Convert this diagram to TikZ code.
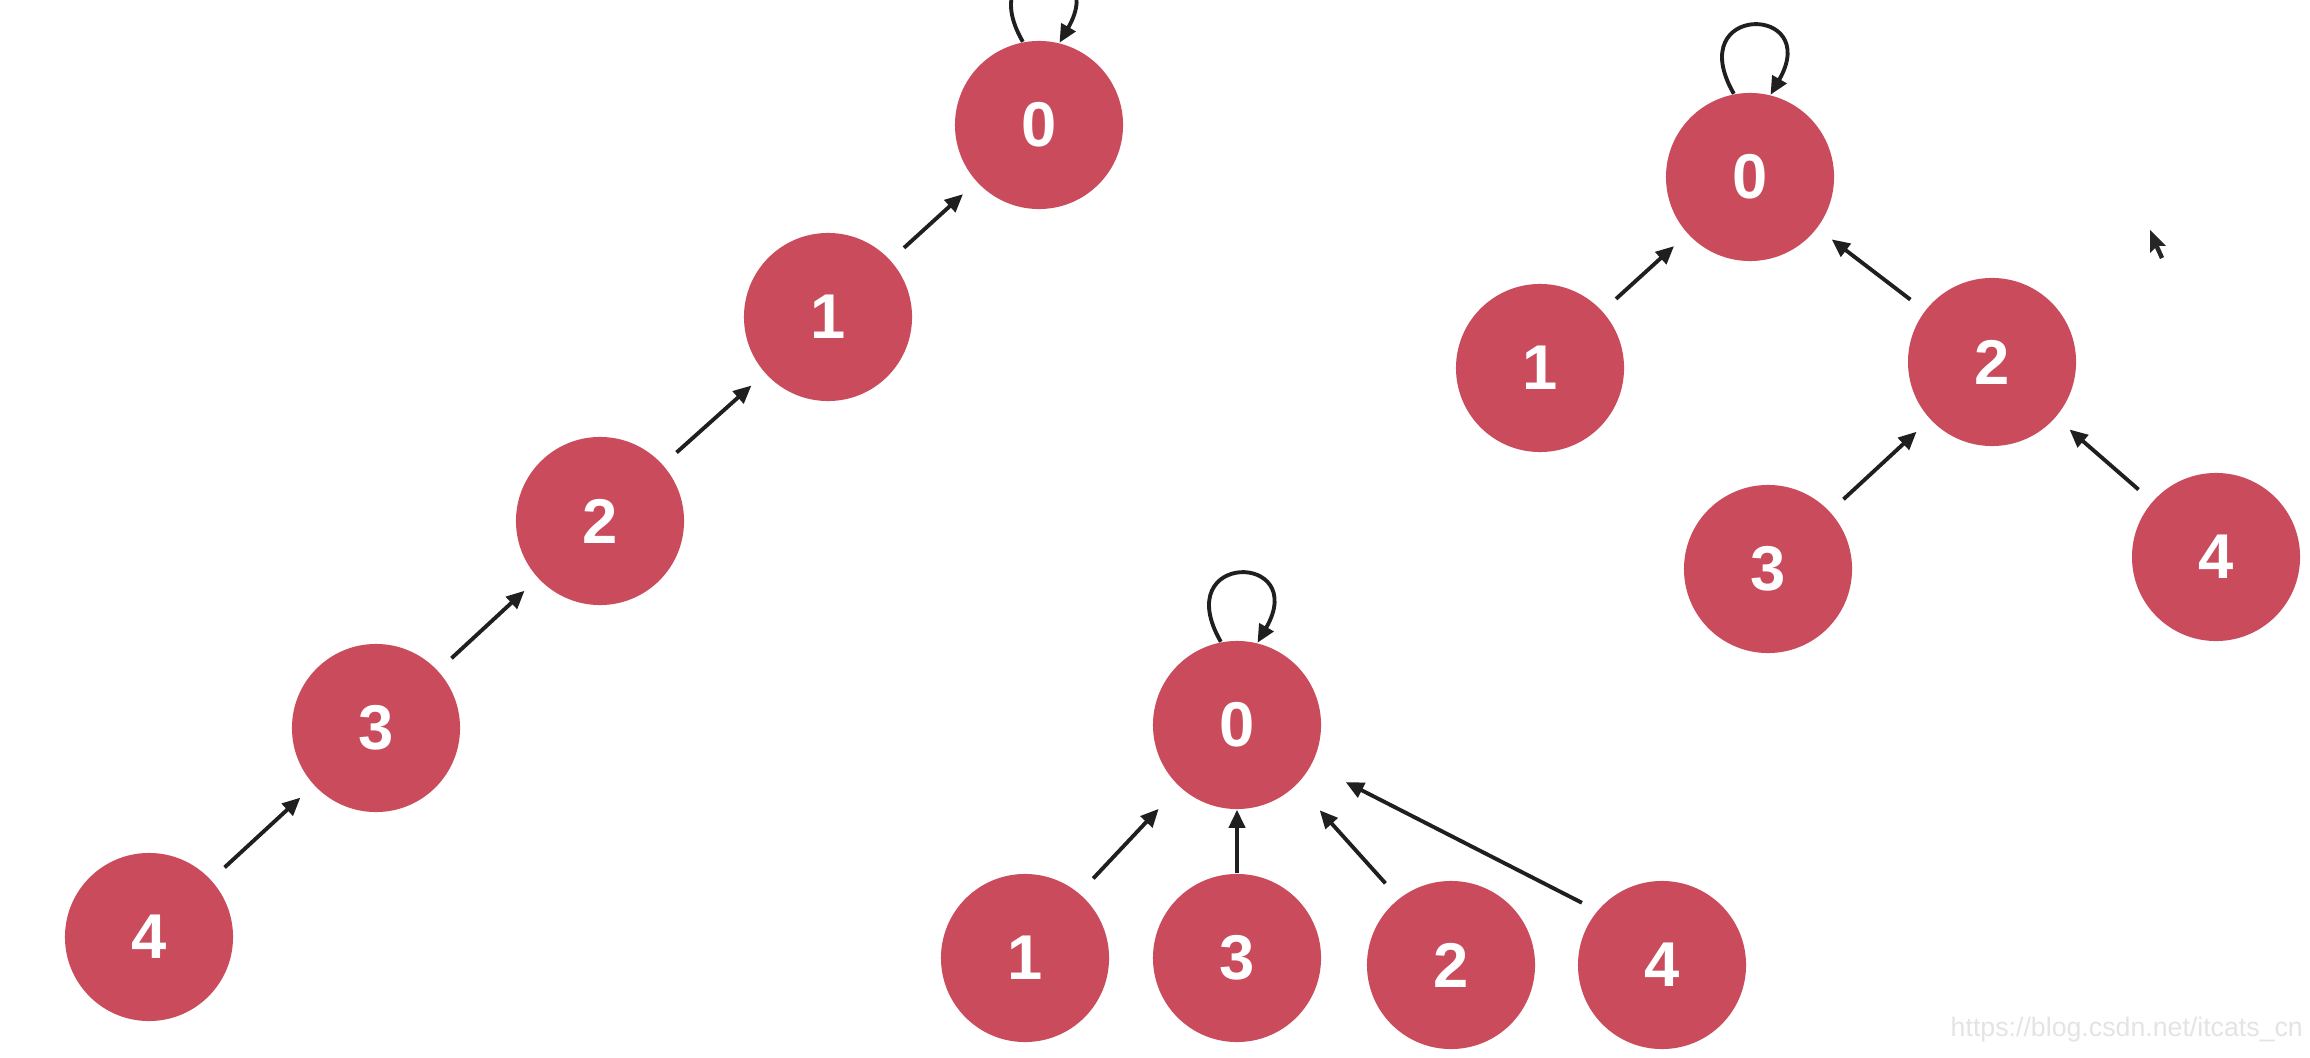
\documentclass[tikz,border=0pt]{standalone}
\usepackage{fontspec}
\setmainfont{Liberation Sans}
\usetikzlibrary{arrows.meta}
\definecolor{nodered}{RGB}{201,75,92}
\definecolor{wmgray}{RGB}{228,228,228}
\begin{document}
\begin{tikzpicture}[x=0.01cm,y=-0.01cm,
  vert/.style={circle,fill=nodered,minimum size=1.68cm,inner sep=0pt,text=white,
    font=\fontsize{18}{18}\selectfont\bfseries},
  arr/.style={draw=black!88,line width=1.1pt,-{Triangle[length=1.8mm,width=1.6mm]}},
  gap/.style={shorten <=0.18cm,shorten >=0.18cm},
  loopto/.style={out=120,in=60,distance=1.05cm}]
\clip (0,0) rectangle (2310,1058);
\fill[white] (0,0) rectangle (2310,1058);
% left chain
\node[vert] (a0) at (1039,125) {0};
\node[vert] (a1) at (828,317) {1};
\node[vert] (a2) at (600,521) {2};
\node[vert] (a3) at (376,728) {3};
\node[vert] (a4) at (149,937) {4};
\draw[arr,gap] (a4) -- (a3);
\draw[arr,gap] (a3) -- (a2);
\draw[arr,gap] (a2) -- (a1);
\draw[arr,gap] (a1) -- (a0);
\draw[arr] (a0.101) to[loopto] (a0.76);
% top right tree
\node[vert] (b0) at (1750,177) {0};
\node[vert] (b1) at (1540,368) {1};
\node[vert] (b2) at (1992,362) {2};
\node[vert] (b3) at (1768,569) {3};
\node[vert] (b4) at (2216,557) {4};
\draw[arr,gap] (b1) -- (b0);
\draw[arr,gap] (b2) -- (b0);
\draw[arr,gap] (b3) -- (b2);
\draw[arr,gap] (b4) -- (b2);
\draw[arr] (b0.101) to[loopto] (b0.76);
% bottom tree
\node[vert] (c0) at (1237,725) {0};
\node[vert] (c1) at (1025,958) {1};
\node[vert] (c3) at (1237,958) {3};
\node[vert] (c2) at (1451,965) {2};
\node[vert] (c4) at (1662,965) {4};
\draw[arr,shorten <=0.2cm,shorten >=0.3cm] (c1.50) -- (c0.227);
\draw[arr] (c3.90) -- (c0.270);
\draw[arr,shorten <=0.2cm,shorten >=0.34cm] (c2.128) -- (c0.315);
\draw[arr,shorten <=0.17cm,shorten >=0.38cm] (c4.140) -- (c0.332);
\draw[arr] (c0.101) to[loopto] (c0.76);
% screenshot artefacts
\fill[black!85] (2150,230) -- (2150,253) -- (2155,248) -- (2160,259) -- (2164,257) -- (2159,246) -- (2166,246) -- cycle;
\node[anchor=west,text=wmgray,font=\fontsize{7.6}{8}\selectfont,inner sep=0pt] (wm) at (1950,1030) {https://blog.csdn.net/itcats\_cn};
\end{tikzpicture}
\end{document}
